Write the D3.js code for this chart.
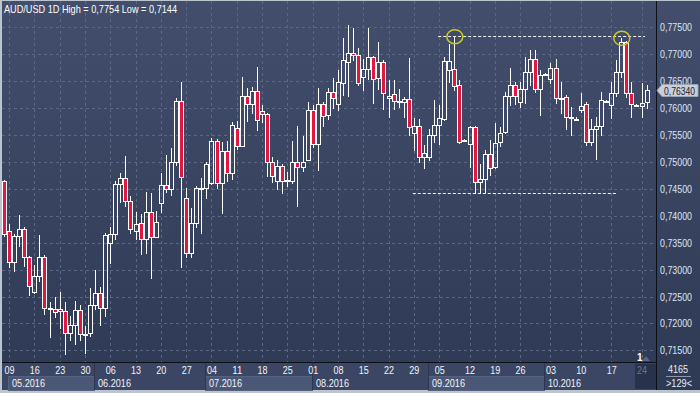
<!DOCTYPE html>
<html><head><meta charset="utf-8">
<script src="https://cdn.jsdelivr.net/npm/d3@7"></script>
<style>html,body{margin:0;padding:0;background:#bcc4d0;} svg{display:block}</style>
</head><body>
<svg id="c" width="700" height="393"></svg>
<script>
// ---------- DATA ----------
const title = "AUD/USD 1D High = 0,7754 Low = 0,7144";
const openV = [.7464,.7372,.7314,.7362,.7375,.7323,.7258,.7288,.7323,.7227,.7227,.7227,.7223,.7182,.7197,.7225,.7180,.7182,.7234,.7257,
.7229,.7349,.7366,.7459,.7470,.7427,.7372,.7386,.7357,.7407,.7360,.7423,.7457,.7449,.7500,.7613,.7433,.7331,.7386,.7451,
.7451,.7461,.7538,.7461,.7520,.7479,.7563,.7529,.7622,.7607,.7631,.7594,.7589,.7500,.7464,.7492,.7466,.7464,.7500,.7490,
.7503,.7596,.7533,.7607,.7587,.7629,.7607,.7646,.7685,.7702,.7698,.7657,.7672,.7694,.7655,.7685,.7618,.7626,.7613,.7611,
.7616,.7553,.7566,.7509,.7509,.7550,.7568,.7579,.7670,.7672,.7642,.7540,.7533,.7564,.7462,.7468,.7514,.7490,.7537,.7555,
.7622,.7642,.7611,.7635,.7667,.7691,.7635,.7663,.7654,.7674,.7618,.7620,.7583,.7579,.7596,.7607,.7537,.7561,.7566,.7613,
.7605,.7628,.7667,.7722,.7628,.7605,.7603,.7611];
const highV = [.7466,.7385,.7366,.7401,.7379,.7325,.7308,.7364,.7327,.7240,.7249,.7258,.7240,.7214,.7242,.7234,.7195,.7266,.7299,.7268,
.7368,.7379,.7464,.7479,.7511,.7436,.7407,.7403,.7444,.7442,.7409,.7479,.7513,.7526,.7618,.7648,.7451,.7414,.7455,.7470,
.7500,.7544,.7542,.7537,.7538,.7574,.7576,.7657,.7637,.7639,.7676,.7605,.7590,.7509,.7503,.7496,.7481,.7538,.7566,.7548,
.7611,.7605,.7637,.7611,.7637,.7655,.7670,.7730,.7754,.7748,.7711,.7691,.7748,.7696,.7722,.7689,.7652,.7652,.7635,.7620,
.7692,.7581,.7579,.7531,.7561,.7615,.7605,.7694,.7718,.7733,.7652,.7542,.7566,.7566,.7496,.7522,.7540,.7572,.7564,.7629,
.7674,.7648,.7648,.7694,.7707,.7707,.7670,.7665,.7683,.7691,.7648,.7624,.7602,.7583,.7628,.7611,.7579,.7583,.7629,.7615,
.7648,.7689,.7730,.7724,.7648,.7607,.7646,.7642];
const lowV = [.7362,.7305,.7297,.7344,.7307,.7253,.7257,.7279,.7218,.7175,.7212,.7192,.7144,.7169,.7162,.7169,.7145,.7177,.7227,.7197,
.7214,.7312,.7357,.7425,.7418,.7368,.7357,.7329,.7331,.7284,.7360,.7407,.7444,.7438,.7494,.7305,.7323,.7323,.7379,.7368,
.7433,.7459,.7451,.7405,.7464,.7468,.7524,.7529,.7576,.7590,.7559,.7574,.7474,.7462,.7449,.7442,.7455,.7461,.7418,.7483,
.7503,.7527,.7485,.7566,.7579,.7600,.7596,.7624,.7622,.7689,.7642,.7633,.7654,.7609,.7635,.7598,.7583,.7598,.7602,.7583,
.7550,.7522,.7500,.7488,.7503,.7537,.7533,.7577,.7648,.7633,.7535,.7538,.7490,.7442,.7442,.7444,.7475,.7488,.7529,.7553,
.7605,.7607,.7602,.7609,.7642,.7629,.7587,.7661,.7646,.7609,.7590,.7561,.7550,.7577,.7592,.7531,.7531,.7505,.7550,.7611,
.7581,.7622,.7657,.7620,.7583,.7603,.7583,.7600];
const closeV = [.7366,.7314,.7362,.7375,.7323,.7270,.7288,.7323,.7229,.7228,.7221,.7223,.7182,.7197,.7225,.7180,.7181,.7234,.7257,.7229,
.7364,.7366,.7459,.7470,.7427,.7375,.7385,.7357,.7407,.7360,.7388,.7457,.7449,.7500,.7613,.7472,.7331,.7386,.7451,.7451,
.7496,.7538,.7461,.7520,.7479,.7568,.7529,.7622,.7607,.7631,.7577,.7589,.7500,.7474,.7492,.7464,.7466,.7500,.7490,.7500,
.7596,.7533,.7607,.7585,.7629,.7618,.7648,.7689,.7702,.7698,.7646,.7672,.7694,.7654,.7685,.7628,.7622,.7613,.7613,.7616,
.7564,.7566,.7509,.7516,.7550,.7568,.7581,.7687,.7687,.7641,.7537,.7540,.7564,.7462,.7468,.7514,.7488,.7535,.7553,.7622,
.7642,.7622,.7635,.7667,.7691,.7635,.7661,.7663,.7674,.7618,.7618,.7583,.7583,.7579,.7603,.7537,.7561,.7566,.7615,.7613,
.7628,.7667,.7722,.7628,.7607,.7605,.7609,.7634];

const priceTicks = [0.775,0.770,0.765,0.760,0.755,0.750,0.745,0.740,0.735,0.730,0.725,0.720,0.715];
const dayLabels = ["09","16","23","30","06","13","20","27","04","11","18","25","01","08","15","22","29","05","12","19","26","03","10","17","24"];
const dayIdx    = [1,6,11,16,21,26,31,36,41,46,51,56,61,66,71,76,81,86,92,97,102,108,114,120,126];
const monthLabels = ["05.2016","06.2016","07.2016","08.2016","09.2016","10.2016"];
const monthStart  = [0.8,17.8,39.8,60.8,83.8,106.8];
const monthHighlight = [true,false,true,false,true,false];
const currentWeekStart = 124.7;
const lastPrice = 0.7634;
const resistance = {level:0.7733, from:85.8, to:126.7};
const support = {level:0.7442, from:80.8, to:121.0};
const markedCandles = [89,122];
const barsInfo = ["4165", ">129<"];

// ---------- LAYOUT ----------
const W=700,H=393, plotL=2, plotR=656, plotT=1, plotB=362, axisB=390;
const svg=d3.select('#c');
const defs=svg.append('defs');
const gr=defs.append('linearGradient').attr('id','bg').attr('x1',0).attr('y1',0).attr('x2',0).attr('y2',1);
gr.append('stop').attr('offset','0%').attr('stop-color','#424e6c');
gr.append('stop').attr('offset','100%').attr('stop-color','#2e3954');
defs.append('clipPath').attr('id','clip').append('rect').attr('x',plotL).attr('y',plotT).attr('width',plotR-plotL).attr('height',plotB-plotT);

svg.append('rect').attr('width',W).attr('height',H).attr('fill','#bcc4d0');
svg.append('rect').attr('x',plotL).attr('y',plotT).attr('width',W-plotL).attr('height',axisB-plotT).attr('fill','url(#bg)');

const n=openV.length;
const x=d3.scaleLinear().domain([0,n-1]).range([4,646.6]);
const y=d3.scaleLinear().domain([0.715,0.775]).range([350.4,27]);
const font="'Liberation Sans', Arial, sans-serif";
function txt(sel, s, px, len){
  const t=sel.append('text').text(s).attr('font-family',font).attr('font-size',px);
  if(len) t.attr('textLength',len).attr('lengthAdjust','spacingAndGlyphs');
  return t;
}

// grid
const grid=svg.append('g').attr('stroke','#5b6785').attr('stroke-width',1).attr('stroke-dasharray','3,3');
priceTicks.forEach(v=>{const yy=Math.round(y(v))+0.5;
  grid.append('line').attr('x1',plotL).attr('x2',plotR).attr('y1',yy).attr('y2',yy);});
dayIdx.forEach(i=>{const xx=Math.round(x(i))+0.5;
  grid.append('line').attr('x1',xx).attr('x2',xx).attr('y1',plotT).attr('y2',plotB);});

// candles
const cg=svg.append('g').attr('clip-path','url(#clip)');
for(let i=0;i<n;i++){
  const c=Math.round(x(i));
  const yo=Math.round(y(openV[i])), yc=Math.round(y(closeV[i]));
  const yh=Math.round(y(highV[i])), yl=Math.round(y(lowV[i]));
  const top=Math.min(yo,yc), bot=Math.max(yo,yc);
  const wx=c+0.5;
  if(bot-top<2){
    cg.append('line').attr('x1',wx).attr('x2',wx).attr('y1',yh).attr('y2',yl+1).attr('stroke','#fff');
    cg.append('rect').attr('x',c-2).attr('y',top).attr('width',5).attr('height',2).attr('fill','#fff');
    continue;
  }
  cg.append('line').attr('x1',wx).attr('x2',wx).attr('y1',yh).attr('y2',top).attr('stroke','#fff');
  cg.append('line').attr('x1',wx).attr('x2',wx).attr('y1',bot).attr('y2',yl+1).attr('stroke','#fff');
  const bear=closeV[i]<openV[i];
  cg.append('rect').attr('x',c-1.5).attr('y',top+0.5).attr('width',4).attr('height',bot-top)
    .attr('fill',bear?'#e3163f':'none').attr('stroke','#fff').attr('stroke-width',1);
}

// support / resistance
[resistance,support].forEach(s=>{const yy=Math.round(y(s.level))+0.5;
  svg.append('line').attr('x1',x(s.from)).attr('x2',x(s.to)).attr('y1',yy).attr('y2',yy)
   .attr('stroke','#f4f4f4').attr('stroke-dasharray','3,2');});
markedCandles.forEach(i=>{
  svg.append('ellipse').attr('cx',x(i)+0.5).attr('cy',y(highV[i])+0.5).attr('rx',8).attr('ry',7)
   .attr('fill','none').attr('stroke','#c9c824').attr('stroke-width',1.5);});

// title
txt(svg,title,11,173).attr('x',4).attr('y',13).attr('fill','#fff');

// bottom axis
const ax=svg.append('g');
ax.append('rect').attr('x',plotL).attr('y',plotB).attr('width',plotR-plotL).attr('height',axisB-plotB).attr('fill','#3a4663');
monthLabels.forEach((m,k)=>{
  const x0=Math.round(x(monthStart[k])), x1=Math.round(x(k<monthLabels.length-1?monthStart[k+1]:currentWeekStart));
  if(monthHighlight[k]) ax.append('rect').attr('x',x0+0.5).attr('y',376.5).attr('width',x1-x0).attr('height',14)
      .attr('fill','#4a5777').attr('stroke','#56637f');
  if(k>0) ax.append('line').attr('x1',x0+0.5).attr('x2',x0+0.5).attr('y1',plotB+1).attr('y2',axisB).attr('stroke','#2c3650');
  txt(ax,m,10.5,33).attr('x',x0+4).attr('y',387).attr('fill','#f2f5fa');
});
const cw=Math.round(x(currentWeekStart));
ax.append('rect').attr('x',cw).attr('y',plotB+2).attr('width',plotR-cw).attr('height',axisB-plotB-3).attr('fill','#28324b');
dayLabels.forEach((d,k)=>{
  txt(ax,d,10.5,10).attr('x',x(dayIdx[k])+0.5).attr('y',374).attr('text-anchor','middle')
    .attr('fill',k===dayLabels.length-1?'#6b7998':'#f2f5fa');
});
ax.append('text').attr('x',cw+2).attr('y',361).text('1').attr('fill','#fff').attr('font-family',font).attr('font-size',10).attr('font-weight','bold');
ax.append('path').attr('d',`M${cw+7},361 L${cw+11},356 L${cw+15},361 Z`).attr('fill','#56668a');

// frame lines
svg.append('line').attr('x1',plotL).attr('x2',plotR+1).attr('y1',plotB+0.5).attr('y2',plotB+0.5).attr('stroke','#0b0f18');
svg.append('line').attr('x1',plotR+0.5).attr('x2',plotR+0.5).attr('y1',plotT).attr('y2',axisB).attr('stroke','#0b0f18');

// right axis
const ym=Math.round(y(lastPrice))+0.5;
priceTicks.forEach(v=>{
  txt(svg,v.toFixed(5).replace('.',','),10.5,32).attr('x',660).attr('y',Math.round(y(v))+4).attr('fill','#dce6f5');
});
svg.append('path').attr('d',`M657,${ym} L662,${ym-6} L698,${ym-6} L698,${ym+6} L662,${ym+6} Z`)
  .attr('fill','#c9ced7').attr('stroke','#9aa3b3');
txt(svg,lastPrice.toFixed(5).replace('.',','),10.5,31).attr('x',664).attr('y',ym+4).attr('fill','#1c2333');

// bars info
txt(svg,barsInfo[0],10.5,20).attr('x',668).attr('y',373).attr('fill','#e6edf8');
svg.append('line').attr('x1',666).attr('x2',691).attr('y1',376.5).attr('y2',376.5).attr('stroke','#8c97ae');
txt(svg,barsInfo[1],10.5,26).attr('x',666).attr('y',387).attr('fill','#e6edf8');
</script>
</body></html>
